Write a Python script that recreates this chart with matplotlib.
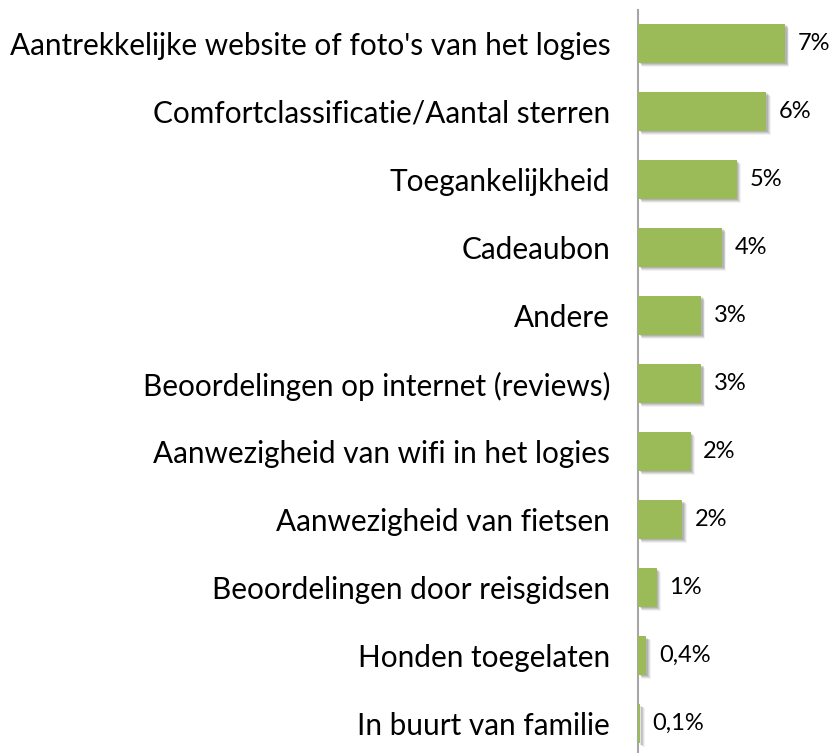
import matplotlib.pyplot as plt
import matplotlib.patheffects as pe

plt.rcParams['font.family'] = ['Lato', 'DejaVu Sans']

# values (share of respondents, %)
categories = [
    "Aantrekkelijke website of foto's van het logies",
    "Comfortclassificatie/Aantal sterren",
    "Toegankelijkheid",
    "Cadeaubon",
    "Andere",
    "Beoordelingen op internet (reviews)",
    "Aanwezigheid van wifi in het logies",
    "Aanwezigheid van fietsen",
    "Beoordelingen door reisgidsen",
    "Honden toegelaten",
    "In buurt van familie",
]
values = [7.0, 6.1, 4.7, 4.0, 3.0, 3.0, 2.5, 2.1, 0.9, 0.4, 0.1]
value_labels = ["7%", "6%", "5%", "4%", "3%", "3%", "2%", "2%", "1%", "0,4%", "0,1%"]

GREEN = '#9BBB59'

W, H = 837, 753
fig = plt.figure(figsize=(W / 100, H / 100), dpi=100)
fig.patch.set_facecolor('white')

# axis line sits at x=638 px, spans from y=10 px to the bottom
ax = fig.add_axes([638 / W, 0, 189 / W, (H - 10) / H])

ypos = list(range(len(categories)))
# soft drop shadow, stacked to look a bit blurred
shadow = [
    pe.SimplePatchShadow(offset=(3.2, -2.8), shadow_rgbFace='#000000', alpha=0.05),
    pe.SimplePatchShadow(offset=(2.5, -2.2), shadow_rgbFace='#000000', alpha=0.08),
    pe.SimplePatchShadow(offset=(1.8, -1.6), shadow_rgbFace='#000000', alpha=0.10),
    pe.SimplePatchShadow(offset=(1.1, -1.0), shadow_rgbFace='#000000', alpha=0.10),
    pe.Normal(),
]
bars = ax.barh(ypos, values, height=0.57, color=GREEN, zorder=3)
for b in bars:
    b.set_path_effects(shadow)

ax.set_xlim(0, 9)
ax.set_ylim(10.43, -0.49)

for y, v, lab in zip(ypos, values, value_labels):
    ax.annotate(lab, xy=(v, y), xytext=(9, 0), textcoords='offset points',
                ha='left', va='center', fontsize=17, color='#000000')

ax.set_yticks(ypos)
ax.set_yticklabels(categories, fontsize=21.4, color='#000000')
ax.tick_params(axis='y', length=0, pad=20)
ax.set_xticks([])

for s in ['top', 'right', 'bottom']:
    ax.spines[s].set_visible(False)
ax.spines['left'].set_color('#A6A6A6')
ax.spines['left'].set_linewidth(1.5)
ax.set_facecolor('none')

fig.savefig('out.png', dpi=100, facecolor='white')
